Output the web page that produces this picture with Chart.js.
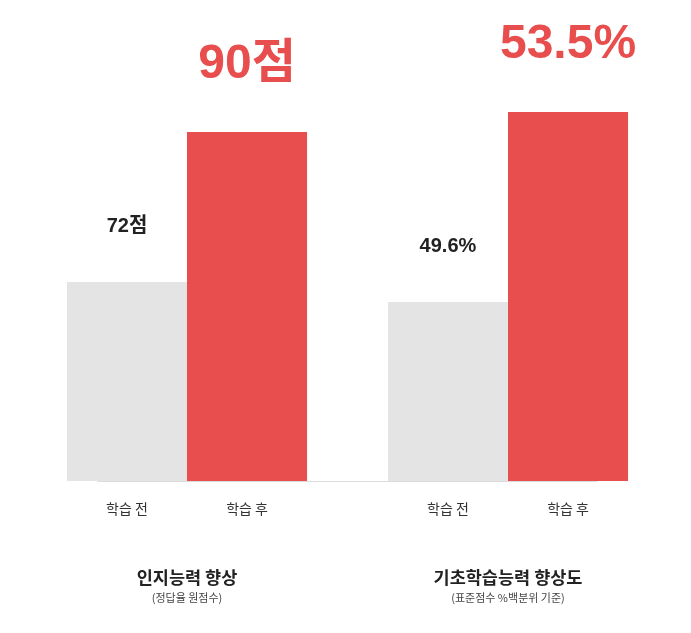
<!DOCTYPE html>
<html>
<head>
<meta charset="utf-8">
<script src="https://cdn.jsdelivr.net/npm/chart.js@4"></script>
<style>
  html, body { margin: 0; padding: 0; background: #fff; }
  #wrap { width: 691px; height: 633px; }
</style>
</head>
<body>
<div id="wrap"><canvas id="chart" width="691" height="633"></canvas></div>
<script>
// 그룹 제목 / 부제
const groups = ['인지능력 향상', '기초학습능력 향상도'];
const groupNotes = ['(정답율 원점수)', '(표준점수 %백분위 기준)'];
const seriesNames = ['학습 전', '학습 후'];
// 막대 높이 (그림에서 읽은 표시 높이)
const beforeHeights = [49.75, 44.75];
const afterHeights = [87.25, 92.25];
// 막대 위 값 표시
const beforeLabels = ['72점', '49.6%'];
const afterLabels = ['90점', '53.5%'];

const RED = '#e84e4e';
const GRAY = '#e4e4e4';
const KFONT = '"Liberation Sans", "Noto Sans CJK KR", Arial, sans-serif';

const labelPlugin = {
    id: 'labels',
    afterDatasetsDraw(chart) {
        const ctx = chart.ctx;
        const area = chart.chartArea;
        ctx.save();
        // 바닥선 (가운데 500px)
        const mid = (area.left + area.right) / 2;
        ctx.strokeStyle = '#dcdcdc';
        ctx.lineWidth = 1;
        ctx.beginPath();
        ctx.moveTo(mid - 250, area.bottom + 0.5);
        ctx.lineTo(mid + 250, area.bottom + 0.5);
        ctx.stroke();

        ctx.textAlign = 'center';
        chart.data.datasets.forEach((ds, di) => {
            const meta = chart.getDatasetMeta(di);
            meta.data.forEach((bar, i) => {
                // 값 라벨
                ctx.textBaseline = 'alphabetic';
                if (di === 0) {
                    ctx.fillStyle = '#222';
                    ctx.font = 'bold 20px ' + KFONT;
                    ctx.fillText(beforeLabels[i], bar.x, bar.y - 50);
                } else {
                    ctx.fillStyle = RED;
                    ctx.font = 'bold 48px ' + KFONT;
                    ctx.fillText(afterLabels[i], bar.x, bar.y - 54);
                }
                // 아래 시리즈 이름
                ctx.fillStyle = '#333';
                ctx.font = '14px "Noto Sans CJK KR", sans-serif';
                ctx.textBaseline = 'middle';
                ctx.fillText(ds.label, bar.x, area.bottom + 28);
            });
        });

        const xs = chart.scales.x;
        groups.forEach((g, i) => {
            const cx = xs.getPixelForValue(i);
            ctx.fillStyle = '#222';
            ctx.font = 'bold 17.5px "Noto Sans CJK KR", sans-serif';
            ctx.textBaseline = 'middle';
            ctx.fillText(g, cx, area.bottom + 96);
            ctx.fillStyle = '#444';
            ctx.font = '11px "Noto Sans CJK KR", sans-serif';
            ctx.fillText(groupNotes[i], cx, area.bottom + 117);
        });
        ctx.restore();
    }
};

const chart = new Chart(document.getElementById('chart'), {
    type: 'bar',
    data: {
        labels: groups,
        datasets: [
            { label: seriesNames[0], data: beforeHeights, backgroundColor: GRAY },
            { label: seriesNames[1], data: afterHeights, backgroundColor: RED }
        ]
    },
    options: {
        responsive: false,
        animation: false,
        events: [],
        layout: { padding: { left: 26.5, right: 22.5, top: 81, bottom: 152 } },
        datasets: { bar: { categoryPercentage: 0.748, barPercentage: 1.0, borderWidth: 0 } },
        plugins: { legend: { display: false }, tooltip: { enabled: false } },
        scales: {
            x: { display: false },
            y: { display: false, min: 0, max: 100 }
        }
    },
    plugins: [labelPlugin]
});
</script>
</body>
</html>
